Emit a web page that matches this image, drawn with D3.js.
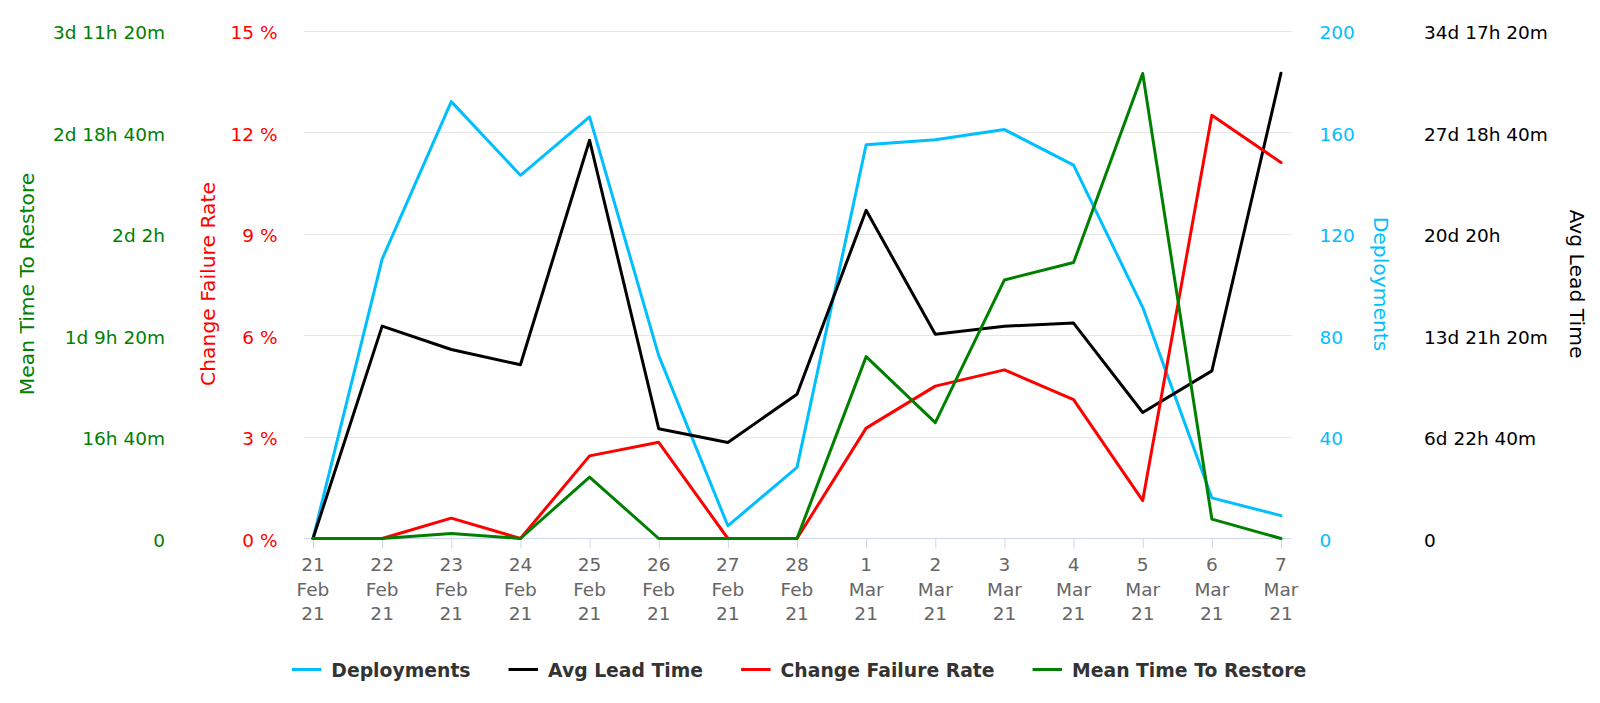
<!DOCTYPE html>
<html>
<head>
<meta charset="utf-8">
<script src="https://cdn.jsdelivr.net/npm/d3@7"></script>
<style>
  html, body { margin: 0; padding: 0; background: #fff; }
  svg { display: block; font-family: "DejaVu Sans", sans-serif; }
</style>
</head>
<body>
<svg id="chart" width="1600" height="703"></svg>
<script>
// ---------- data ----------
const dayLabels   = ["21","22","23","24","25","26","27","28","1","2","3","4","5","6","7"];
const monthLabels = ["Feb","Feb","Feb","Feb","Feb","Feb","Feb","Feb","Mar","Mar","Mar","Mar","Mar","Mar","Mar"];
const yearLabels  = ["21","21","21","21","21","21","21","21","21","21","21","21","21","21","21"];

const deployments = [0, 110, 172, 143, 166, 72, 5, 28, 155, 157, 161, 147, 91, 16, 9];
// minutes
const avgLeadTime = [0, 20900, 18600, 17100, 39200, 10800, 9450, 14200, 32300, 20100, 20900, 21200, 12400, 16500, 45800];
// percent
const changeFailureRate = [0, 0, 0.6, 0, 2.44, 2.84, 0, 0, 3.26, 4.5, 4.98, 4.1, 1.12, 12.5, 11.1];
// minutes
const meanTimeToRestore = [0, 0, 50, 0, 604, 0, 0, 0, 1790, 1140, 2545, 2716, 4577, 191, 0];

const deployTicks = [0, 40, 80, 120, 160, 200];
const cfrTicks    = [0, 3, 6, 9, 12, 15];
const mttrTicks   = [0, 1000, 2000, 3000, 4000, 5000];
const altTicks    = [0, 10000, 20000, 30000, 40000, 50000];

const seriesNames  = ["Deployments", "Avg Lead Time", "Change Failure Rate", "Mean Time To Restore"];
const seriesColors = ["#00bfff", "#000000", "#ff0000", "#008000"];

// ---------- helpers ----------
function fmtDuration(min) {
  if (min === 0) return "0";
  const d = Math.floor(min / 1440);
  const h = Math.floor((min % 1440) / 60);
  const m = Math.round(min % 60);
  const parts = [];
  if (d) parts.push(d + "d");
  if (h) parts.push(h + "h");
  if (m) parts.push(m + "m");
  return parts.join(" ");
}

// ---------- layout ----------
const svg = d3.select("#chart");
const plotLeft = 304, plotRight = 1291.5, plotTop = 30.5, plotBottom = 538.5;
const labelSize = 18.5, titleSize = 20.3;

const x = d3.scalePoint().domain(d3.range(dayLabels.length)).range([313, 1281]);
const yDep  = d3.scaleLinear().domain([0, 200]).range([plotBottom, plotTop]);
const yCfr  = d3.scaleLinear().domain([0, 15]).range([plotBottom, plotTop]);
const yMttr = d3.scaleLinear().domain([0, 5000]).range([plotBottom, plotTop]);
const yAlt  = d3.scaleLinear().domain([0, 50000]).range([plotBottom, plotTop]);

// gridlines
svg.append("g").selectAll("line").data(deployTicks.filter(d => d !== 0)).join("line")
  .attr("x1", plotLeft).attr("x2", plotRight)
  .attr("y1", d => Math.round(yDep(d)) + 0.5).attr("y2", d => Math.round(yDep(d)) + 0.5)
  .attr("stroke", "#e6e6e6").attr("stroke-width", 1);

// x axis
const xAxis = d3.axisBottom(x).tickSize(10).tickFormat("");
const gx = svg.append("g").attr("transform", `translate(0,${plotBottom})`).call(xAxis);
gx.select(".domain").remove();
gx.selectAll(".tick line").attr("stroke", "#ccd6eb").attr("stroke-width", 1);
svg.append("line").attr("x1", plotLeft).attr("x2", plotRight)
  .attr("y1", plotBottom).attr("y2", plotBottom)
  .attr("stroke", "#ccd6eb").attr("stroke-width", 1);

const xl = svg.append("g").selectAll("text").data(d3.range(dayLabels.length)).join("text")
  .attr("text-anchor", "middle").attr("fill", "#666").attr("font-size", labelSize);
xl.append("tspan").attr("x", d => x(d)).attr("y", 571).text(d => dayLabels[d]);
xl.append("tspan").attr("x", d => x(d)).attr("y", 595.5).text(d => monthLabels[d]);
xl.append("tspan").attr("x", d => x(d)).attr("y", 619.5).text(d => yearLabels[d]);

// y axes
function yAxis(gen, scale, ticks, fmt, tx, pad, color) {
  const g = svg.append("g").attr("transform", `translate(${tx},0)`)
    .call(gen(scale).tickValues(ticks).tickFormat(fmt).tickSize(0).tickPadding(pad));
  g.select(".domain").remove();
  g.selectAll("text").attr("fill", color).attr("font-size", labelSize)
    .attr("font-family", "DejaVu Sans, sans-serif").attr("dy", "0.43em");
}
yAxis(d3.axisLeft,  yMttr, mttrTicks, fmtDuration, plotLeft, 139, "#008000");
yAxis(d3.axisLeft,  yCfr,  cfrTicks,  d => d + " %", plotLeft, 26.5, "#ff0000");
yAxis(d3.axisRight, yDep,  deployTicks, d => String(d), plotRight, 28, "#00bfff");
yAxis(d3.axisRight, yAlt,  altTicks, fmtDuration, plotRight, 132.5, "#000000");

// axis titles
const cy = (plotTop + plotBottom) / 2 - 0.5;
function title(txt, tx, rot, color) {
  svg.append("text").attr("transform", `translate(${tx},${cy}) rotate(${rot})`)
    .attr("text-anchor", "middle").attr("fill", color).attr("font-size", titleSize).text(txt);
}
title("Mean Time To Restore", 33.5, -90, "#008000");
title("Change Failure Rate", 214.5, -90, "#ff0000");
title("Deployments", 1373.5, 90, "#00bfff");
title("Avg Lead Time", 1569.5, 90, "#000000");

// lines
const allSeries = [
  { vals: deployments, y: yDep },
  { vals: avgLeadTime, y: yAlt },
  { vals: changeFailureRate, y: yCfr },
  { vals: meanTimeToRestore, y: yMttr }
];
allSeries.forEach((s, i) => {
  const line = d3.line().x((d, j) => x(j)).y(d => s.y(d));
  svg.append("path").datum(s.vals).attr("d", line)
    .attr("fill", "none").attr("stroke", seriesColors[i]).attr("stroke-width", 3)
    .attr("stroke-linejoin", "round").attr("stroke-linecap", "round");
});

// legend
const legend = svg.append("g");
const items = seriesNames.map((name, i) => {
  const g = legend.append("g");
  g.append("line").attr("x1", 0).attr("x2", 29.5).attr("y1", 0).attr("y2", 0)
    .attr("stroke", seriesColors[i]).attr("stroke-width", 3);
  const t = g.append("text").attr("x", 39.5).attr("y", 7).attr("font-size", 18.8)
    .attr("font-weight", "bold").attr("fill", "#333").text(name);
  return { g, w: 39.5 + t.node().getComputedTextLength() };
});
const gap = 38;
const total = d3.sum(items, d => d.w) + gap * (items.length - 1);
let cx = 799 - total / 2;
items.forEach(it => {
  it.g.attr("transform", `translate(${cx},669.5)`);
  cx += it.w + gap;
});
</script>
</body>
</html>
